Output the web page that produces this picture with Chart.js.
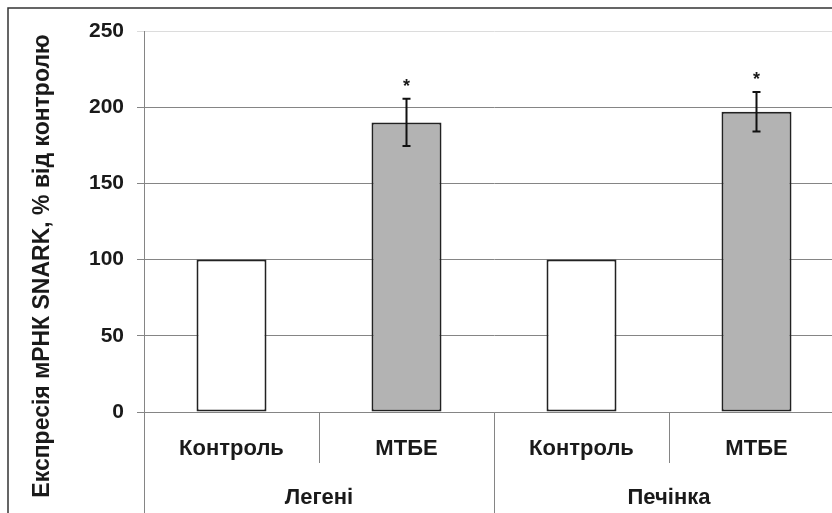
<!DOCTYPE html>
<html>
<head>
<meta charset="utf-8">
<script src="https://cdn.jsdelivr.net/npm/chart.js@4"></script>
<style>
  html, body { margin: 0; padding: 0; background: #fff; overflow: hidden; }
  #wrap { width: 832px; height: 513px; overflow: hidden; }
</style>
</head>
<body>
<div id="wrap"><canvas id="chart" width="844" height="513"></canvas></div>
<script>
// data
const categories = ['Контроль', 'МТБЕ', 'Контроль', 'МТБЕ'];
const groups = ['Легені', 'Печінка'];
const values = [100, 190, 100, 197];
const errors = [0, 15.5, 0, 13];
const marks = ['', '*', '', '*'];
const yTitle = 'Експресія мРНК SNARK, % від контролю';

const gridColor = '#858585';
const textColor = '#1a1a1a';
const font = 'Liberation Sans, Arial, sans-serif';

// frame, y title, error bars and asterisks
const extras = {
  id: 'extras',
  afterDatasetsDraw(chart) {
    const ctx = chart.ctx;
    const x = chart.scales.x;
    const y = chart.scales.y;

    ctx.save();
    // error bars
    ctx.strokeStyle = '#111';
    ctx.lineWidth = 2;
    values.forEach((v, i) => {
      if (!errors[i]) return;
      const px = x.getPixelForValue(i);
      const top = y.getPixelForValue(v + errors[i]);
      const bot = y.getPixelForValue(v - errors[i]);
      ctx.beginPath();
      ctx.moveTo(px, top); ctx.lineTo(px, bot);
      ctx.moveTo(px - 4, top); ctx.lineTo(px + 4, top);
      ctx.moveTo(px - 4, bot); ctx.lineTo(px + 4, bot);
      ctx.stroke();
    });

    // significance marks
    ctx.fillStyle = textColor;
    ctx.font = 'bold 18px ' + font;
    ctx.textAlign = 'center';
    ctx.textBaseline = 'middle';
    values.forEach((v, i) => {
      if (!marks[i]) return;
      const px = x.getPixelForValue(i);
      const top = y.getPixelForValue(v + errors[i]);
      ctx.fillText(marks[i], px, top - 12);
    });

    // y axis title
    ctx.font = 'bold 23px ' + font;
    ctx.translate(43, 266);
    ctx.rotate(-Math.PI / 2);
    ctx.fillText(yTitle, 0, 0);
    ctx.restore();

    // outer frame (top and left only, picture is cropped)
    ctx.save();
    ctx.strokeStyle = '#333';
    ctx.lineWidth = 1.5;
    ctx.beginPath();
    ctx.moveTo(8, chart.height);
    ctx.lineTo(8, 8);
    ctx.lineTo(chart.width, 8);
    ctx.stroke();
    ctx.restore();
  }
};

new Chart(document.getElementById('chart'), {
  type: 'bar',
  data: {
    labels: categories,
    datasets: [{
      data: values,
      backgroundColor: ['#ffffff', '#b3b3b3', '#ffffff', '#b3b3b3'],
      borderColor: '#222',
      borderWidth: 2,
      borderSkipped: false,
      categoryPercentage: 1,
      barPercentage: 0.4
    }]
  },
  options: {
    responsive: false,
    animation: false,
    layout: { padding: { top: 31, left: 0, right: 0, bottom: 0 } },
    plugins: { legend: { display: false }, tooltip: { enabled: false } },
    scales: {
      x: {
        offset: true,
        grid: { offset: true, drawOnChartArea: false, tickLength: 51, color: gridColor },
        border: { color: gridColor },
        ticks: { font: { family: font, size: 22, weight: 'bold' }, color: textColor, padding: -27, maxRotation: 0, autoSkip: false },
        afterFit: s => { s.height = 51; }
      },
      x2: {
        type: 'category',
        labels: groups,
        position: 'bottom',
        offset: true,
        grid: { offset: true, drawOnChartArea: false, tickLength: 50, color: gridColor },
        border: { display: false },
        ticks: { font: { family: font, size: 22, weight: 'bold' }, color: textColor, padding: -28, maxRotation: 0, autoSkip: false },
        afterFit: s => { s.height = 50; }
      },
      y: {
        min: 0,
        max: 250,
        ticks: { stepSize: 50, font: { family: font, size: 21, weight: 'bold' }, color: textColor, padding: 13 },
        grid: { tickLength: 7, color: c => (c.tick && c.tick.value === 250) ? '#dcdcdc' : gridColor },
        border: { color: gridColor },
        afterFit: s => { s.width = 144; }
      }
    }
  },
  plugins: [extras]
});
</script>
</body>
</html>
